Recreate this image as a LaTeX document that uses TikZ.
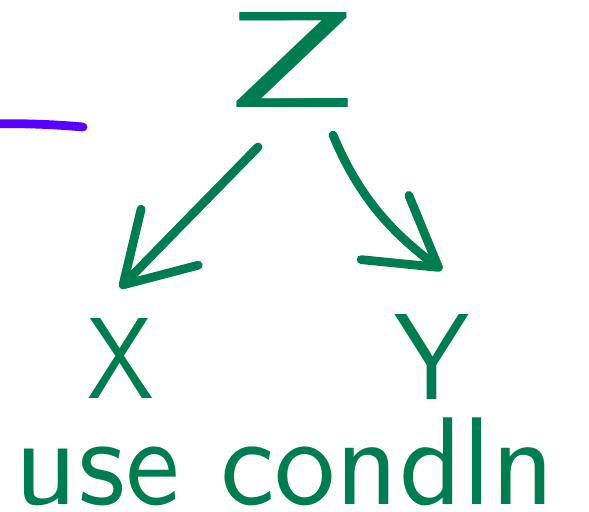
\documentclass[tikz,border=0pt]{standalone}
\usepackage{graphicx}
\usetikzlibrary{arrows.meta}
\definecolor{pen}{RGB}{0,125,80}
\definecolor{penviolet}{RGB}{90,0,255}
\tikzset{
  hand/.style={pen, line width=7.5pt, line cap=round, line join=round},
  handtip/.style={-{Straight Barb[length=2cm,width=2.4cm,line cap=round,line join=round]}},
  letter/.style={pen, inner sep=0pt, font=\sffamily}
}
\begin{document}
\begin{tikzpicture}[x=0.03cm,y=-0.03cm]
            \useasboundingbox (0,0) rectangle (589,512);
            \node[letter] (Z) at (292,60) {\resizebox{4.05cm}{2.85cm}{Z}};
            \node[letter] (X) at (121,358) {\resizebox{2cm}{2.4cm}{X}};
            \node[letter] (Y) at (432,357) {\resizebox{2.25cm}{2.55cm}{Y}};
            \node[letter] (label) at (285,462) {\resizebox{16.2cm}{2.6cm}{use condln}};
            \coordinate (zx) at (258,147); %start towards X
            \coordinate (xt) at (120,288);
            \coordinate (zy) at (333,135); %start towards Y
            \coordinate (yt) at (442,270);
            \draw[hand,handtip] (zx)--(xt);
            \draw[hand,handtip] (zy) .. controls (360,200) and (395,235) .. (yt);
            \draw[hand,penviolet] (-10,124) .. controls (30,123) and (60,125) .. (83,127);
\end{tikzpicture}
\end{document}
